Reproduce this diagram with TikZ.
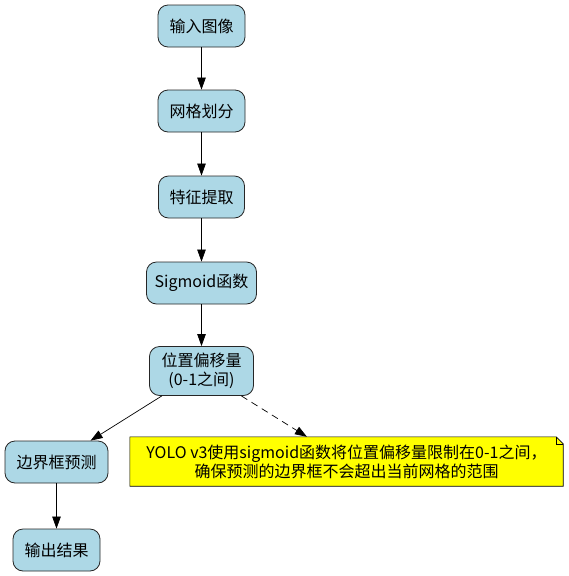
\documentclass[tikz,border=0pt]{standalone}
\usepackage{fontspec}
\setmainfont{Noto Sans CJK SC}
\usetikzlibrary{
	positioning,
	arrows.meta
}
\definecolor{StepBlue}{RGB}{173,216,230}
\definecolor{NoteYellow}{RGB}{255,255,0}
\pgfdeclarelayer{background}
\pgfsetlayers{background,main}

\begin{document}
\begin{tikzpicture}[
		x=1pt, y=1pt,
		font=\fontsize{16}{19}\selectfont,
		stepbox/.style={draw=black!85, fill=StepBlue, rounded corners=10pt, minimum height=42pt, align=center, line width=0.8pt},
		notebox/.style={minimum width=433pt, minimum height=49pt, align=center},
		flow/.style={-{Triangle[length=12pt, width=8.5pt]}, line width=0.7pt}
	]
		\useasboundingbox (0,0) rectangle (568,-576);
	
		\node[stepbox, minimum width=87pt] at(201.5,-26) (input) {输入图像};
		\node[stepbox, minimum width=87pt] at(201.5,-111) (grid) {网格划分};
		\node[stepbox, minimum width=86pt] at(201.5,-197) (feature) {特征提取};
		\node[stepbox, minimum width=110pt] at(201.5,-283) (sigmoid) {Sigmoid函数};
		\node[stepbox, minimum width=104pt, minimum height=49pt] at(201.5,-371) (offset) {位置偏移量\\(0-1之间)};
		\node[stepbox, minimum width=103pt] at(56.5,-462) (bbox) {边界框预测};
		\node[stepbox, minimum width=87pt] at(56.5,-550) (output) {输出结果};
	
		\node[notebox] at(346.5,-461.5) (note) {YOLO v3使用sigmoid函数将位置偏移量限制在0-1之间，\\确保预测的边界框不会超出当前网格的范围};
		\begin{pgfonlayer}{background}
			\draw[fill=NoteYellow, line width=0.6pt] (note.north west) -- ([xshift=-7pt]note.north east) -- ([yshift=-7pt]note.north east) -- (note.south east) -- (note.south west) -- cycle;
		\end{pgfonlayer}
		\draw[line width=0.5pt] ([xshift=-7pt]note.north east) |- ([yshift=-7pt]note.north east);
	
		\draw[flow] (input) -- (grid);
		\draw[flow] (grid) -- (feature);
		\draw[flow] (feature) -- (sigmoid);
		\draw[flow] (sigmoid) -- (offset);
		\draw[flow] (offset) -- (bbox);
		\draw[flow] (bbox) -- (output);
		\draw[flow, dash pattern=on 7pt off 5pt] (offset) -- (note);
	
	\end{tikzpicture}
\end{document}
